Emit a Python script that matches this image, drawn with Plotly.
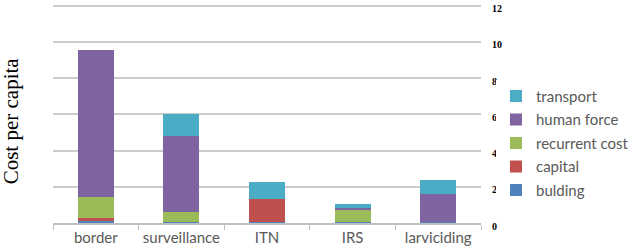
import plotly.graph_objects as go

categories = ["border", "surveillance", "ITN", "IRS", "larviciding"]
building = [0.10, 0.08, 0.05, 0.08, 0.08]
capital = [0.15, 0.0, 1.28, 0.0, 0.0]
recurrent = [1.20, 0.52, 0.0, 0.62, 0.0]
human_force = [8.10, 4.18, 0.0, 0.12, 1.52]
transport = [0.0, 1.22, 0.91, 0.25, 0.75]
y_ticks = [0, 2, 4, 6, 8, 10, 12]

series = [
    ("bulding", building, "#4f81bd"),
    ("capital", capital, "#c0504d"),
    ("recurrent cost", recurrent, "#9bbb59"),
    ("human force", human_force, "#8064a2"),
    ("transport", transport, "#4bacc6"),
]

fig = go.Figure()
n = len(series)
for i, (name, vals, color) in enumerate(series):
    fig.add_trace(go.Bar(x=categories, y=vals, name=name, marker_color=color,
                         marker_line_width=0, legendgroup=name, legendrank=n - i))

fig.update_layout(
    width=638, height=252,
    margin=dict(l=53, r=157, t=0, b=29, autoexpand=False),
    barmode="stack", bargap=0.58,
    paper_bgcolor="white", plot_bgcolor="white",
    legend=dict(x=1.035, y=0.358, yanchor="middle", xanchor="left",
                traceorder="grouped", tracegroupgap=1,
                font=dict(family="Lato", size=15, color="#595959"),
                itemwidth=30),
    xaxis=dict(showline=True, linecolor="#bfbfbf", linewidth=1.5,
               ticks="outside", tickson="boundaries", ticklen=5, tickcolor="#bfbfbf",
               tickangle=0,
               tickfont=dict(family="Lato", size=15, color="#595959")),
    yaxis=dict(side="right", range=[0, 12.32], tickvals=y_ticks,
               showgrid=True, gridcolor="#cccccc", gridwidth=1.5,
               zeroline=False, showline=False, ticks="",
               ticklabelstandoff=10, ticklabelshift=3,
               tickfont=dict(family="Liberation Serif", size=10, color="black", weight="bold")),
    showlegend=True,
)
fig.add_annotation(text="Cost per capita", xref="paper", yref="paper",
                   x=-0.096, y=0.46, textangle=-90, showarrow=False,
                   xanchor="center", yanchor="middle",
                   font=dict(family="Liberation Serif", size=21, color="black"))

fig.write_html("out.html")
